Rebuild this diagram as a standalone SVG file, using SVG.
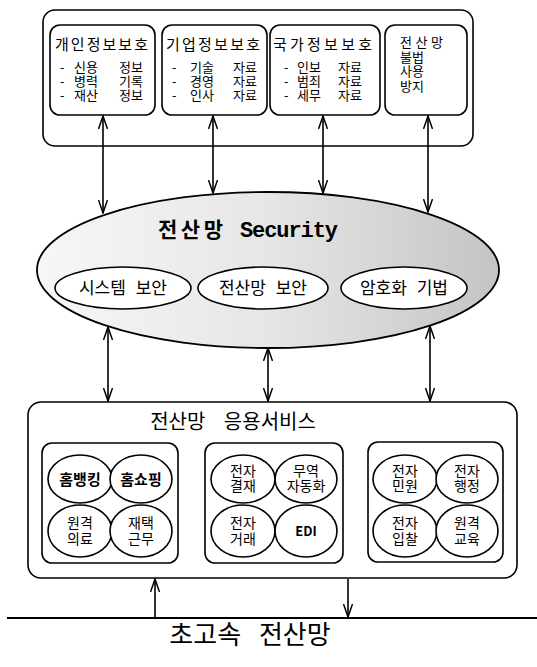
<svg xmlns="http://www.w3.org/2000/svg" width="537" height="667" viewBox="0 0 537 667">
<style>
.box{fill:#fff;stroke:#000;stroke-width:1.6}
.el{fill:#fff;stroke:#000;stroke-width:1.6}
.t{font-family:"Noto Sans CJK KR","Liberation Sans",sans-serif;fill:#000}
.f15{font-size:15px}
.f14{font-size:14px}
.f13{font-size:13px}
.c{text-anchor:middle}
.b{font-weight:bold}
.con{stroke:#000;stroke-width:1.6;fill:none}
</style>
<defs>
<marker id="ah" viewBox="0 0 14 10" refX="13" refY="5" markerWidth="14" markerHeight="10" markerUnits="userSpaceOnUse" orient="auto-start-reverse">
<path d="M0,0.5 L13,5 L0,9.5" fill="none" stroke="#000" stroke-width="1.5"/>
</marker>
<linearGradient id="g" x1="0" y1="0" x2="1" y2="0">
<stop offset="0" stop-color="#f7f7f7"/>
<stop offset="0.5" stop-color="#e6e6e6"/>
<stop offset="1" stop-color="#c4c4c4"/>
</linearGradient>
</defs>

<g id="protection">
<rect class="box" x="43" y="10" width="430" height="136" rx="12"/>
<g id="personal">
<rect class="box" x="50" y="25" width="105" height="90" rx="10"/>
<text class="t f15" x="55" y="50" textLength="93">개인정보보호</text>
<text class="t f13"><tspan x="60" y="72">-</tspan><tspan x="74" y="72">신용</tspan><tspan x="119" y="72">정보</tspan><tspan x="60" y="86">-</tspan><tspan x="74" y="86">병력</tspan><tspan x="119" y="86">기록</tspan><tspan x="60" y="100">-</tspan><tspan x="74" y="100">재산</tspan><tspan x="119" y="100">정보</tspan></text>
</g>
<g id="corporate">
<rect class="box" x="162" y="25" width="105" height="90" rx="10"/>
<text class="t f15" x="166" y="50" textLength="94">기업정보보호</text>
<text class="t f13"><tspan x="172" y="72">-</tspan><tspan x="190" y="72">기술</tspan><tspan x="233" y="72">자료</tspan><tspan x="172" y="86">-</tspan><tspan x="190" y="86">경영</tspan><tspan x="233" y="86">자료</tspan><tspan x="172" y="100">-</tspan><tspan x="190" y="100">인사</tspan><tspan x="233" y="100">자료</tspan></text>
</g>
<g id="national">
<rect class="box" x="270" y="25" width="110" height="90" rx="10"/>
<text class="t f15" x="273" y="50" textLength="99">국가정보보호</text>
<text class="t f13"><tspan x="284" y="72">-</tspan><tspan x="297" y="72">인보</tspan><tspan x="338" y="72">자료</tspan><tspan x="284" y="86">-</tspan><tspan x="297" y="86">범죄</tspan><tspan x="338" y="86">자료</tspan><tspan x="284" y="100">-</tspan><tspan x="297" y="100">세무</tspan><tspan x="338" y="100">자료</tspan></text>
</g>
<g id="illegal">
<rect class="box" x="385" y="25" width="82" height="90" rx="10"/>
<text class="t f13"><tspan x="400" y="47" textLength="43">전산망</tspan><tspan x="400" y="61.5">불법</tspan><tspan x="400" y="76">사용</tspan><tspan x="400" y="90.5">방지</tspan></text>
</g>
</g>

<g id="security">
<ellipse cx="268" cy="270" rx="231" ry="78" fill="url(#g)" stroke="#000" stroke-width="1.8"/>
<text class="t b" font-size="21"><tspan x="158" y="237" textLength="65">전산망</tspan><tspan x="240" y="237" font-family="Liberation Mono,monospace" font-size="22" textLength="98">Security</tspan></text>
<g id="sys"><ellipse class="el" cx="123" cy="288" rx="68" ry="21"/><text class="t c" x="123" y="294" font-size="17" word-spacing="6">시스템 보안</text></g>
<g id="net"><ellipse class="el" cx="263" cy="288" rx="65" ry="21"/><text class="t c" x="263" y="294" font-size="17" word-spacing="6">전산망 보안</text></g>
<g id="crypto"><ellipse class="el" cx="404" cy="288" rx="63" ry="21"/><text class="t c" x="404" y="294" font-size="17" word-spacing="6">암호화 기법</text></g>
</g>

<g id="services">
<rect class="box" x="28" y="402" width="489" height="176" rx="13"/>
<text class="t c" x="233" y="429" font-size="20" word-spacing="14">전산망 응용서비스</text>
<g id="grp1">
<rect class="box" x="42" y="443" width="136" height="120" rx="10"/>
<ellipse class="el" cx="80" cy="479" rx="32" ry="24"/><text class="t c f15 b" x="80" y="485">홈뱅킹</text>
<ellipse class="el" cx="141" cy="479" rx="31" ry="24"/><text class="t c f15 b" x="141" y="485">홈쇼핑</text>
<ellipse class="el" cx="80" cy="531" rx="32" ry="26"/><text class="t c f14"><tspan x="80" y="528">원격</tspan><tspan x="80" y="544">의료</tspan></text>
<ellipse class="el" cx="141" cy="531" rx="31" ry="26"/><text class="t c f14"><tspan x="141" y="528">재택</tspan><tspan x="141" y="544">근무</tspan></text>
</g>
<g id="grp2">
<rect class="box" x="205" y="443" width="138" height="120" rx="10"/>
<ellipse class="el" cx="243" cy="479" rx="32" ry="24"/><text class="t c f14"><tspan x="243" y="475.5">전자</tspan><tspan x="243" y="491">결재</tspan></text>
<ellipse class="el" cx="306" cy="479" rx="31" ry="24"/><text class="t c f14"><tspan x="306" y="475.5">무역</tspan><tspan x="306" y="491">자동화</tspan></text>
<ellipse class="el" cx="243" cy="531" rx="32" ry="26"/><text class="t c f14"><tspan x="243" y="528">전자</tspan><tspan x="243" y="544">거래</tspan></text>
<ellipse class="el" cx="306" cy="531" rx="31" ry="26"/><text class="t c b" x="306" y="536" font-size="13" font-family="Liberation Sans,sans-serif">EDI</text>
</g>
<g id="grp3">
<rect class="box" x="368" y="442" width="135" height="120" rx="10"/>
<ellipse class="el" cx="405" cy="479" rx="32" ry="24"/><text class="t c f14"><tspan x="405" y="475.5">전자</tspan><tspan x="405" y="491">민원</tspan></text>
<ellipse class="el" cx="467" cy="479" rx="31" ry="24"/><text class="t c f14"><tspan x="467" y="475.5">전자</tspan><tspan x="467" y="491">행정</tspan></text>
<ellipse class="el" cx="405" cy="531" rx="32" ry="26"/><text class="t c f14"><tspan x="405" y="528">전자</tspan><tspan x="405" y="544">입찰</tspan></text>
<ellipse class="el" cx="467" cy="531" rx="31" ry="26"/><text class="t c f14"><tspan x="467" y="528">원격</tspan><tspan x="467" y="544">교육</tspan></text>
</g>
</g>

<g id="network">
<line x1="7" y1="618" x2="537" y2="618" stroke="#000" stroke-width="1.8"/>
<text class="t c" x="250" y="644" font-size="26" word-spacing="12">초고속 전산망</text>
</g>

<g id="connectors">
<line class="con" x1="103" y1="116" x2="103" y2="213" marker-start="url(#ah)" marker-end="url(#ah)"/>
<line class="con" x1="213" y1="116" x2="213" y2="193" marker-start="url(#ah)" marker-end="url(#ah)"/>
<line class="con" x1="323" y1="116" x2="323" y2="193" marker-start="url(#ah)" marker-end="url(#ah)"/>
<line class="con" x1="428" y1="116" x2="428" y2="212" marker-start="url(#ah)" marker-end="url(#ah)"/>
<line class="con" x1="108" y1="327" x2="108" y2="401" marker-start="url(#ah)" marker-end="url(#ah)"/>
<line class="con" x1="268" y1="348" x2="268" y2="401" marker-start="url(#ah)" marker-end="url(#ah)"/>
<line class="con" x1="430" y1="326" x2="430" y2="401" marker-start="url(#ah)" marker-end="url(#ah)"/>
<line class="con" x1="155" y1="617" x2="155" y2="579" marker-end="url(#ah)"/>
<line class="con" x1="348" y1="579" x2="348" y2="617" marker-end="url(#ah)"/>
</g>
</svg>
